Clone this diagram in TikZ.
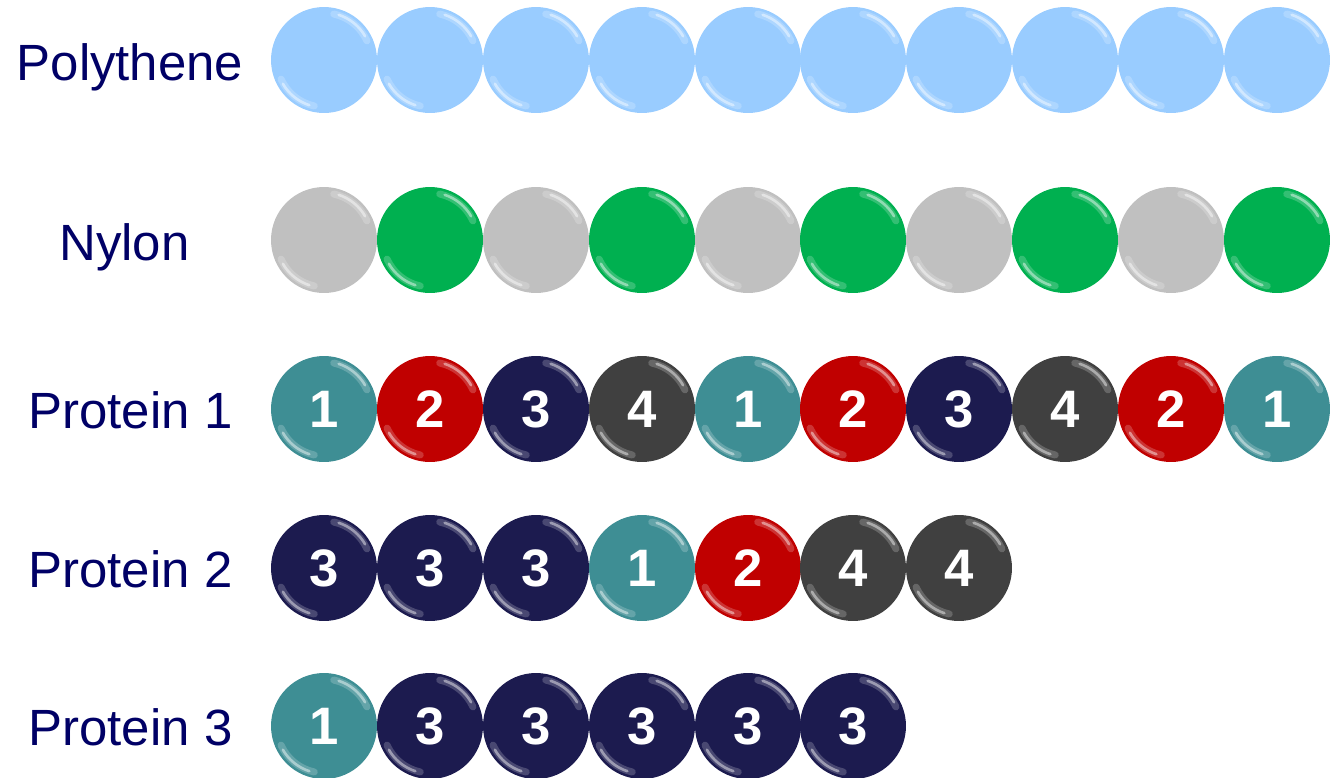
\documentclass[tikz,border=0pt]{standalone}
\usepackage{fontspec}
\setmainfont{Liberation Sans}
\usepackage{tikz}
\usetikzlibrary{calc}
\definecolor{labelnavy}{HTML}{000066}
\definecolor{polyblue}{HTML}{99CCFF}
\definecolor{nylongrey}{HTML}{C0C0C0}
\definecolor{nylongreen}{HTML}{00B050}
\definecolor{aateal}{HTML}{3E8E94}
\definecolor{aared}{HTML}{C00000}
\definecolor{aanavy}{HTML}{1C1B4F}
\definecolor{aagrey}{HTML}{404040}

\begin{document}
\begin{tikzpicture}[x=0.02cm, y=-0.02cm]
    \tikzstyle{shine}=[white,line cap=round];
    \tikzstyle{bead}=[circle,inner sep=0pt,minimum size=2.12cm,text=white,
      font=\fontsize{30}{32}\selectfont\bfseries,
      path picture={
        \coordinate (ctr) at (path picture bounding box.center);
        \draw[shine,opacity=0.2,line width=4pt] ($(ctr)+(24:0.94cm)$) arc[start angle=24,end angle=78,radius=0.94cm];
        \draw[shine,opacity=0.45,line width=1.5pt] ($(ctr)+(30:0.95cm)$) arc[start angle=30,end angle=72,radius=0.95cm];
        \draw[shine,opacity=0.2,line width=4pt] ($(ctr)+(204:0.94cm)$) arc[start angle=204,end angle=258,radius=0.94cm];
        \draw[shine,opacity=0.45,line width=1.5pt] ($(ctr)+(210:0.95cm)$) arc[start angle=210,end angle=252,radius=0.95cm];
      }];
    \tikzstyle{rowname}=[anchor=base,inner sep=0pt,text=labelnavy,font=\fontsize{29}{32}\selectfont];
    \useasboundingbox (0,0) rectangle (1330,778);
    %polythene
    \begin{scope}[shift={(0,60)}]
    	\node[rowname] (poly) at (130,20) {Polythene};
    	\node[bead,fill=polyblue] (p1) at (324,0) {};
    	\node[bead,fill=polyblue] (p2) at (430,0) {};
    	\node[bead,fill=polyblue] (p3) at (536,0) {};
    	\node[bead,fill=polyblue] (p4) at (642,0) {};
    	\node[bead,fill=polyblue] (p5) at (748,0) {};
    	\node[bead,fill=polyblue] (p6) at (853,0) {};
    	\node[bead,fill=polyblue] (p7) at (959,0) {};
    	\node[bead,fill=polyblue] (p8) at (1065,0) {};
    	\node[bead,fill=polyblue] (p9) at (1171,0) {};
    	\node[bead,fill=polyblue] (p10) at (1277,0) {};
    \end{scope}
    %nylon
    \begin{scope}[shift={(0,240)}]
    	\node[rowname] (nylon) at (124.5,20) {Nylon};
    	\node[bead,fill=nylongrey] (n1) at (324,0) {};
    	\node[bead,fill=nylongreen] (n2) at (430,0) {};
    	\node[bead,fill=nylongrey] (n3) at (536,0) {};
    	\node[bead,fill=nylongreen] (n4) at (642,0) {};
    	\node[bead,fill=nylongrey] (n5) at (748,0) {};
    	\node[bead,fill=nylongreen] (n6) at (853,0) {};
    	\node[bead,fill=nylongrey] (n7) at (959,0) {};
    	\node[bead,fill=nylongreen] (n8) at (1065,0) {};
    	\node[bead,fill=nylongrey] (n9) at (1171,0) {};
    	\node[bead,fill=nylongreen] (n10) at (1277,0) {};
    \end{scope}
    %protein 1
    \begin{scope}[shift={(0,409)}]
    	\node[rowname] (prota) at (130.5,19) {Protein 1};
    	\node[bead,fill=aateal] (a1) at (324,0) {1};
    	\node[bead,fill=aared] (a2) at (430,0) {2};
    	\node[bead,fill=aanavy] (a3) at (536,0) {3};
    	\node[bead,fill=aagrey] (a4) at (642,0) {4};
    	\node[bead,fill=aateal] (a5) at (748,0) {1};
    	\node[bead,fill=aared] (a6) at (853,0) {2};
    	\node[bead,fill=aanavy] (a7) at (959,0) {3};
    	\node[bead,fill=aagrey] (a8) at (1065,0) {4};
    	\node[bead,fill=aared] (a9) at (1171,0) {2};
    	\node[bead,fill=aateal] (a10) at (1277,0) {1};
    \end{scope}
    %protein 2
    \begin{scope}[shift={(0,568)}]
    	\node[rowname] (protb) at (130.5,19) {Protein 2};
    	\node[bead,fill=aanavy] (b1) at (324,0) {3};
    	\node[bead,fill=aanavy] (b2) at (430,0) {3};
    	\node[bead,fill=aanavy] (b3) at (536,0) {3};
    	\node[bead,fill=aateal] (b4) at (642,0) {1};
    	\node[bead,fill=aared] (b5) at (748,0) {2};
    	\node[bead,fill=aagrey] (b6) at (853,0) {4};
    	\node[bead,fill=aagrey] (b7) at (959,0) {4};
    \end{scope}
    %protein 3
    \begin{scope}[shift={(0,726)}]
    	\node[rowname] (protc) at (130.5,19) {Protein 3};
    	\node[bead,fill=aateal] (c1) at (324,0) {1};
    	\node[bead,fill=aanavy] (c2) at (430,0) {3};
    	\node[bead,fill=aanavy] (c3) at (536,0) {3};
    	\node[bead,fill=aanavy] (c4) at (642,0) {3};
    	\node[bead,fill=aanavy] (c5) at (748,0) {3};
    	\node[bead,fill=aanavy] (c6) at (853,0) {3};
    \end{scope}
\end{tikzpicture}
\end{document}
